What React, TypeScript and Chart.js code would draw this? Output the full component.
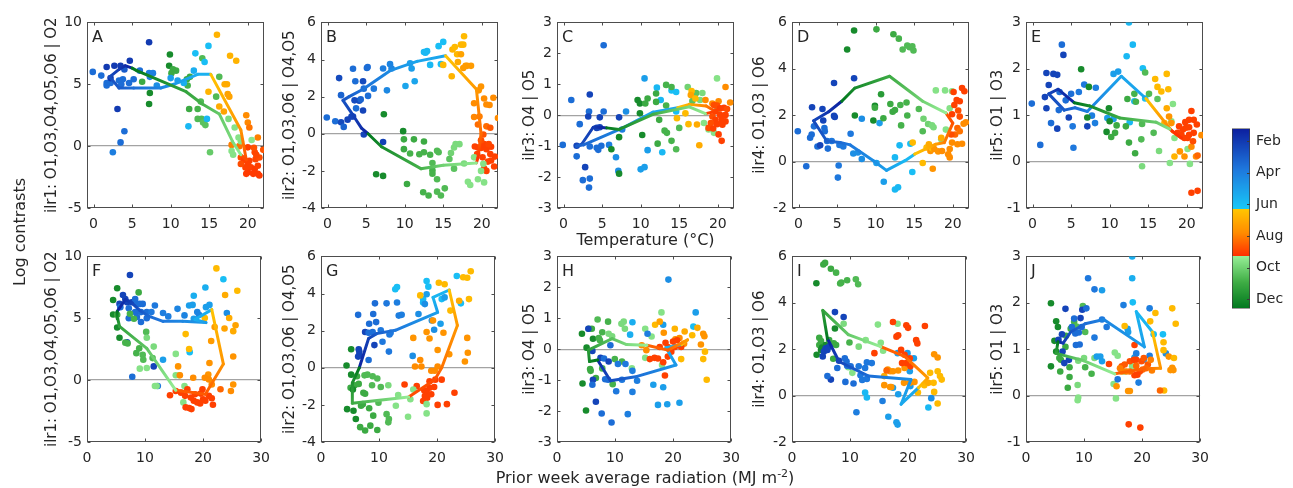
import React, { useEffect, useRef } from 'react';
import { Chart, registerables } from 'chart.js';
Chart.register(...registerables);

const FONT = '"DejaVu Sans", Verdana, sans-serif';
const INK = '#262626';

// ---------- tick labels / categories ----------
const X_TICKS_TEMP = [0, 5, 10, 15, 20];
const X_TICKS_RAD = [0, 10, 20, 30];
const Y_TICKS_1 = [-5, 0, 5, 10];
const Y_TICKS_2 = [-4, -2, 0, 2, 4, 6];
const Y_TICKS_3 = [-3, -2, -1, 0, 1, 2, 3];
const Y_TICKS_4 = [-2, 0, 2, 4, 6];
const Y_TICKS_5 = [-1, 0, 1, 2, 3];
const MONTH_TICKS = [2, 4, 6, 8, 10, 12];
const MONTH_LABELS = ['Feb', 'Apr', 'Jun', 'Aug', 'Oct', 'Dec'];
const Y_TITLES = ['ilr1: O1,O3,O4,O5,O6 | O2', 'ilr2: O1,O3,O6 | O4,O5', 'ilr3: O4 | O5', 'ilr4: O1,O3 | O6', 'ilr5: O1 | O3'];
const LETTERS = ['A', 'B', 'C', 'D', 'E', 'F', 'G', 'H', 'I', 'J'];

// ---------- data: [x, y, month] ----------
const PTS_A = [
  [-0.1,6.0,3.5],[1.0,5.7,3.5],[1.7,6.4,2],[2.7,6.5,2],[2.2,5.1,3.5],[1.7,5.1,3.5],[1.7,4.9,3.5],[2.2,5.5,2],[3.5,6.5,2],[4.0,6.2,3],[4.7,6.9,2],[3.8,5.4,3.5],[3.3,5.3,3.5],[3.6,5.0,3.5],[4.6,5.1,3.5],[5.2,5.4,3.5],[6.0,6.1,3.5],[7.2,5.9,4],[7.7,5.9,4],[7.3,5.6,4],[8.2,4.9,4.5],[7.2,8.4,2],[3.1,3.0,2],[4.0,1.2,3.5],[3.5,0.3,3.5],[2.5,-0.5,4],
  [6.3,5.2,11],[7.3,4.3,12],[7.2,3.4,12],[9.9,7.4,12],[9.8,6.5,12],[10.3,6.2,11],[10.1,5.9,11],[10.7,6.1,11],[12.1,5.4,11],[12.5,5.6,11],[12.2,4.9,10.8],[14.1,7.1,10.6],[12.4,3.0,11],[13.5,3.0,10.8],[13.9,3.6,10.6],[13.5,2.2,10.6],[14.0,2.2,10.6],[14.2,1.9,10.4],[14.5,1.7,10.4],[15.1,-0.5,10.2],[16.3,5.6,10.6],[15.9,4.0,10.6],
  [10.0,5.5,5],[10.9,5.3,5],[11.7,5.1,5.5],[13.0,6.1,5.5],[13.2,7.5,6],[14.4,6.8,6],[14.9,8.1,6],[14.7,2.2,5.8],[12.3,1.6,5.8],
  [16.0,9.0,6.8],[17.7,7.3,6.8],[18.5,6.9,6.8],[14.9,4.4,6.8],[17.0,5.0,7.0],[17.3,5.0,7.0],[17.4,4.2,7.2],[17.6,4.0,7.2],[16.3,3.2,7.0],[16.9,2.8,7.2],[19.8,2.5,7.8],[20.0,1.9,7.9],[20.2,1.5,8.2],[21.3,0.7,8.0],[17.9,0.1,8.0],[18.9,0.0,8.2],
  [17.5,2.2,9.8],[18.3,1.5,9.6],[18.8,0.7,9.6],[19.1,0.4,9.6],[18.1,-0.7,9.6],[17.9,-0.4,9.6],[20.5,0.5,9.5],
  [20.0,-0.1,9.0],[20.9,-0.5,8.9],[22.0,-0.3,8.7],[19.1,-0.92,8.8],[19.5,-1.13,9.0],[20.0,-1.45,9.0],[20.4,-1.72,9.0],[20.9,-1.85,9.1],[21.3,-2.24,9.1],[20.0,-2.11,9.1],[19.7,-1.72,9.0],[19.1,-1.45,8.8],[21.0,-1.06,8.9],[21.5,-0.92,8.8],[21.3,-1.58,9.0],[20.2,-1.19,9.0],[19.8,-2.24,9.1],[20.7,-2.24,9.1],[21.5,-2.37,9.1],[21.1,-0.71,8.9],[20.8,-0.13,8.7]
];
const LINE_A = [[5.0,6.3,1.3],[4.1,6.5,1.6],[3.3,6.2,2.0],[2.1,5.6,2.5],[3.3,4.7,3.0],[5.2,4.7,3.5],[8.7,4.7,4.2],[10.4,5.0,4.8],[13.5,5.8,5.6],[15.2,5.8,6.35],[19.1,1.3,7.6],[19.8,-1.1,8.8],[19.1,-0.7,9.4],[18.0,0.4,9.8],[16.3,2.6,10.2],[14.1,3.4,10.8],[12.0,4.4,11.2],[5.6,6.1,12.5],[5.0,6.3,12.6]];

const PTS_B = [
  [-0.1,0.88,3.5],[1.0,0.67,3.5],[1.75,0.62,2.5],[2.1,0.37,3.2],[1.5,3.0,2.5],[1.75,2.08,3.2],[3.3,3.5,3.5],[3.6,2.83,3.5],[4.6,2.83,2.5],[5.1,3.54,3.5],[5.2,3.6,3.5],[3.5,1.8,2.5],[4.1,1.78,2.5],[4.3,1.85,3.2],[4.7,2.43,3.5],[6.0,2.43,3.8],[5.25,2.04,3.5],[3.7,1.37,3.5],[4.6,1.25,2.3],[3.1,0.93,2.3],[2.6,0.76,2.3],[3.3,0.93,2.3],[4.7,-0.04,2.3],[7.2,3.52,4.0],[8.1,3.75,4.2],[8.3,3.52,4.2],[7.7,2.34,4.3],[10.7,3.8,5],[10.9,3.52,5],[11.3,2.83,5.2],[10.1,2.57,5.2],[12.5,4.4,5.8],[12.7,4.37,5.8],[12.9,4.45,5.8],[13.3,3.71,5.8],[14.4,4.72,6],[15.0,4.95,6],[14.7,3.75,6],[7.2,-0.44,2.2],
  [15.0,3.71,6.6],[16.2,4.54,6.8],[16.5,4.67,6.6],[17.3,4.8,6.7],[17.6,4.8,6.7],[17.7,5.25,6.6],[16.8,4.28,6.7],[17.3,4.28,7.2],[16.9,3.87,7.0],[17.9,3.66,7.4],[18.1,3.66,7.4],[18.6,3.66,7.4],[17.6,3.54,7.4],[16.1,3.1,6.8],[19.9,2.55,7.6],[19.6,2.34,7.6],[20.3,1.9,7.8],[21.5,1.94,7.8],[19.0,1.64,7.8],[20.6,1.58,7.8],[21.0,1.55,7.8],[22.1,0.85,7.8],[19.0,0.9,7.9],[19.7,0.93,8.0],[19.5,0.5,8.3],[20.6,0.4,8.3],[21.1,0.32,8.6],[20.2,-0.04,8.7],
  [19.1,-0.69,9],[19.5,-0.74,9],[19.9,-0.77,9],[20.3,-0.56,9],[20.6,-0.83,9],[21.2,-0.7,9],[21.7,-1.23,9],[21.1,-1.09,9],[21.2,-1.44,9],[20.8,-1.5,9],[20.3,-1.88,9],[20.6,-2.0,9],[21.6,-1.76,9],[19.4,-1.09,9],[20.1,-1.27,9],[19.9,-0.35,8.8],[20.9,-0.56,8.9],
  [7.3,1.05,12],[9.8,0.14,12],[9.9,-0.3,11],[9.9,-0.83,11],[11.2,-0.3,11],[12.5,-0.42,11],[11.9,-1.1,10.8],[12.5,-1.0,10.8],[10.7,-1.06,10.8],[13.3,-1.13,10.8],[13.6,-1.58,10.6],[14.2,-0.92,10.6],[14.4,-1.0,10.6],[16.0,-1.04,10],[16.4,-0.74,9.8],[16.6,-0.56,9.8],[17.1,-0.56,9.8],[15.8,-1.36,10.4],[16.4,-1.88,10.4],[17.7,-1.6,9.8],[19.0,-1.27,9.6],[20.2,-1.62,9.6],[18.2,-2.59,9.6],[18.5,-2.76,9.6],[19.5,-2.45,9.6],[20.3,-2.62,9.6],[19.9,-2.0,9.6],[6.3,-2.18,12],[7.2,-2.27,12],[10.3,-2.71,11],[12.4,-3.15,10.8],[13.1,-3.33,10.8],[13.6,-1.97,10.8],[13.6,-2.15,10.8],[14.2,-3.12,10.6],[14.7,-3.33,10.6],[15.2,-2.94,10.6],[14.2,-2.45,10.6]
];
const LINE_B = [[5.25,0.0,1.3],[4.4,0.3,1.7],[3.3,1.0,2.2],[2.0,1.8,2.7],[2.8,2.0,3.1],[4.6,2.4,3.6],[8.1,3.4,4.4],[11.6,3.9,5.2],[15.3,4.2,6.35],[19.3,2.4,7.5],[19.9,0.0,8.3],[19.5,-1.3,9.2],[19.3,-1.57,9.4],[15.0,-1.7,10.0],[12.1,-1.88,10.8],[7.0,-0.7,12.0],[5.25,0.0,12.6]];

const PTS_C = [
  [-0.1,-0.96,3.5],[1.0,0.49,3.5],[2.1,-0.29,3.5],[1.7,-1.33,3.5],[1.7,-0.99,2.3],[2.5,-2.1,3.5],[2.8,-1.68,2.3],[3.4,-2.05,3.5],[3.3,-2.34,3.5],[3.4,0.67,2.3],[3.3,0.12,3.5],[3.2,-0.04,2.3],[4.7,-0.07,2.3],[5.2,0.12,3.5],[5.2,2.26,3.5],[3.4,-1.01,3.5],[4.3,-1.05,3.5],[4.5,-1.12,3.5],[4.9,-0.99,3.5],[5.9,-0.96,4],[4.3,-0.41,2.3],[4.7,-0.39,2.3],[6.8,-1.36,4.5],[7.1,-1.8,4.5],[7.2,-0.07,2.3],[8.1,0.12,4.5],[7.6,-0.46,4],[10.5,1.19,5],[10.9,-1.13,5],[10.0,-1.75,5],[10.5,-1.68,5],[12.1,0.89,5.8],[12.6,0.49,5.8],[12.8,-1.2,5.8],[14.0,0.8,6],[14.6,0.75,6],[14.6,0.12,6],
  [6.2,-1.1,12],[7.2,-0.71,12],[7.2,-1.89,12],[9.6,0.49,12],[9.9,0.38,12],[9.9,0.06,12],[10.2,-0.64,12],[10.6,0.38,11],[10.9,0.54,11],[12.0,0.7,11],[12.0,0.43,11],[12.4,-0.15,11],[12.2,-0.92,11],[13.3,0.98,10.8],[14.0,0.91,10.8],[13.3,0.31,10.8],[13.1,-0.5,10.8],[13.4,-0.57,10.8],[14.0,-0.83,10.8],[14.6,-1.1,10.6],[15.0,-0.41,10.6],[16.1,0.91,10],[16.7,0.46,10.4],[17.2,0.72,10.4],[18.0,0.72,9.8],[17.7,0.49,9.8],[19.9,1.19,9.6],[18.2,-0.25,9.6],[18.8,-0.46,9.6],[19.5,-0.57,9.6],[19.9,0.17,9.6],
  [14.7,-0.1,6.6],[15.8,0.06,6.6],[16.2,-0.29,6.6],[16.6,0.78,6.6],[16.5,0.65,7.2],[17.1,0.54,6.6],[17.3,-0.3,7.0],[17.6,-0.97,7.0],[18.4,0.49,7.8],[19.3,0.38,7.8],[21.0,0.91,7.8],[21.6,0.41,7.8],[20.1,0.45,7.8],
  [19.5,0.33,8.8],[19.9,0.31,8.8],[20.3,0.22,9],[20.8,0.24,9],[21.2,0.2,8.8],[19.7,0.12,9],[20.3,0.01,9],[21.0,0.01,9],[19.3,-0.04,8.8],[19.7,-0.15,9],[20.5,-0.15,9],[21.0,-0.2,9],[19.1,-0.25,8.8],[19.9,-0.29,9],[18.8,-0.41,8.8],[19.4,-0.43,9],[20.6,-0.31,9],[20.1,-0.62,9],[20.5,-0.83,9]
];
const LINE_C = [[5.6,-0.41,1.3],[4.7,-0.39,1.6],[3.85,-0.39,2.0],[2.35,-0.94,2.6],[1.7,-1.0,3.0],[2.6,-0.96,3.3],[7.7,-0.41,4.3],[11.6,0.1,5.3],[14.8,0.24,6.35],[16.3,0.35,7.0],[18.5,0.3,8.0],[19.7,0.12,9.0],[18.4,0.05,9.4],[16.3,0.27,9.8],[11.6,0.03,10.9],[7.2,-0.46,11.9],[5.6,-0.41,12.6]];

const PTS_D = [
  [-0.1,1.31,3.5],[1.0,-0.2,3.5],[1.5,1.03,3.5],[1.7,1.17,3.5],[1.75,2.34,2.3],[2.0,1.52,3.5],[2.45,0.65,3.5],[2.8,0.7,2.3],[3.1,2.27,2.3],[3.2,1.77,2.3],[3.35,1.45,3.5],[3.4,1.31,3.5],[3.7,0.89,3.5],[3.8,0.56,3.5],[4.3,0.89,3.8],[4.6,1.97,2.3],[4.7,1.92,2.3],[4.6,3.39,2.3],[5.3,0.72,3.8],[5.2,-0.17,3.8],[5.1,-0.69,3.8],[5.8,0.65,3.8],[6.75,1.2,3.8],[7.2,3.59,2.3],[7.1,0.35,4.5],[7.7,0.39,4.5],[8.2,0.11,4.5],[8.2,1.85,4.5],[10.1,-0.06,5],[10.5,1.66,5],[11.05,-0.87,5],[12.5,-1.2,5.8],[12.9,-1.11,5.8],[12.5,0.18,5.8],[13.1,0.7,5.8],[14.75,-0.45,6],[14.5,0.77,6],
  [6.3,4.83,12],[7.2,5.65,12],[7.3,1.99,12],[9.9,2.41,12],[9.9,2.32,11],[9.7,1.77,12],[11.0,1.87,11],[10.7,2.9,11.5],[10.1,5.7,11],[12.3,5.49,11],[13.0,5.3,10.8],[13.5,4.83,10.6],[14.1,5.0,10.6],[14.4,4.93,10.6],[14.75,4.97,10.6],[14.9,4.79,10.6],[11.9,2.48,11],[12.2,2.15,11],[12.5,2.22,11],[13.2,2.44,10.8],[14.0,2.55,10.8],[13.3,1.56,10.8],[14.1,1.99,10.8],[15.6,2.27,10.6],[16.2,1.85,10],[16.1,1.31,10.6],[16.8,1.62,10],[17.3,1.56,9.8],[17.5,1.48,9.8],[17.8,3.07,9.6],[19.0,3.07,9.6],[19.9,3.03,9.6],[19.6,2.3,9.6],[19.1,1.38,9.6],[18.5,0.96,9.6],
  [14.8,0.82,6.6],[16.1,-0.06,6.6],[16.6,0.61,6.6],[16.9,0.75,7.0],[17.1,0.46,7.6],[17.3,0.58,6.6],[17.4,-0.31,7.6],[17.6,0.54,7.6],[18.1,0.44,7.6],[18.5,1.03,7.0],[18.6,0.46,7.8],[19.4,0.32,7.8],[19.6,0.54,7.8],[19.6,0.18,7.8],[19.9,0.82,7.8],[20.6,0.75,7.8],[21.2,0.77,7.8],[21.7,1.69,7.8],[21.4,1.63,7.8],
  [19.9,2.04,9],[20.2,2.44,9],[20.9,1.94,8.8],[20.5,2.65,9],[20.9,2.6,9],[20.1,3.0,9],[21.2,3.17,9],[21.5,3.03,9],[20.3,1.17,8.4],[20.6,1.45,8.4],[20.9,1.31,8.2],[19.8,1.17,8.8],[20.7,2.2,8.8]
];
const LINE_D = [[5.6,2.6,1.3],[3.9,2.15,1.8],[1.95,1.76,2.4],[3.65,0.89,3.0],[5.4,0.82,3.4],[6.7,0.72,3.8],[9.7,0.04,4.5],[11.4,-0.38,5.0],[13.8,0.04,5.8],[15.05,0.32,6.35],[17.8,0.75,7.3],[18.9,0.82,8.0],[20.0,1.66,8.7],[19.1,2.1,9.3],[16.1,2.6,10.0],[11.8,3.68,11.0],[7.3,3.17,12.0],[5.6,2.6,12.6]];

const PTS_E = [
  [-0.1,1.25,3.5],[1.0,0.36,3.5],[1.6,1.39,2.3],[1.8,1.91,2.3],[2.1,1.65,2.3],[1.8,1.15,2.3],[2.4,0.83,3.5],[2.7,1.89,2.3],[3.2,1.87,2.3],[3.2,0.71,2.3],[3.4,1.11,3.5],[3.8,2.52,3.5],[4.0,2.3,2.3],[3.5,1.5,3.5],[4.3,1.32,3.5],[4.7,0.95,2.3],[5.0,1.46,3.5],[5.2,0.76,3.8],[5.3,0.3,3.8],[6.0,1.5,3.8],[6.7,1.66,3.8],[7.1,0.76,2.3],[7.7,0.99,4],[8.1,0.83,4],[8.2,1.59,4],[9.7,0.94,5],[10.5,0.92,5],[10.5,1.89,5],[11.1,1.94,5],[12.2,2.27,5.8],[12.5,3.0,5.8],[13.0,2.52,5.8],[13.2,1.3,5.8],[14.3,2.01,6],[14.6,1.36,6],[12.6,0.85,5.8],
  [6.3,1.99,12],[7.3,1.61,12],[7.1,0.95,12],[9.9,1.15,12],[10.0,0.87,12],[9.6,0.64,12],[10.2,0.53,11],[10.7,0.62,11],[10.9,0.78,11],[12.1,0.76,11],[12.5,0.41,11],[12.3,1.35,11],[13.4,1.29,10.8],[13.2,1.46,10.8],[13.3,0.18,11],[14.2,0.81,10.6],[14.1,0.48,10.6],[14.2,-0.1,9.8],[14.6,1.92,10.6],[15.1,1.46,10.6],[15.7,0.62,10.6],[16.2,1.35,10.4],[16.4,0.23,9.8],[18.2,1.24,9.6],[18.0,0.87,9.6],[17.8,-0.03,9.6],[18.4,0.51,9.6],[20.1,0.27,9.6],[20.4,-0.05,9.6],
  [15.9,1.78,6.6],[17.4,1.89,6.6],[16.2,1.61,6.6],[16.7,1.51,6.6],[17.6,1.56,6.6],[17.4,1.15,7.0],[17.7,0.97,7.6],[18.0,0.83,7.6],[17.1,0.83,6.8],[18.4,0.11,6.8],[19.1,0.22,7.6],[19.7,0.11,7.6],[21.2,0.11,7.8],[21.4,0.13,8.4],[21.9,0.57,7.8],[20.6,0.32,7.8],
  [19.0,0.76,9],[19.5,0.69,9],[19.9,0.73,9],[20.3,0.9,9],[20.6,1.09,9],[20.9,0.9,9],[21.3,0.8,9],[20.9,0.62,9],[20.3,0.58,9],[20.1,0.51,9],[19.7,0.51,9],[19.3,0.58,9],[18.8,0.62,9],[20.3,0.74,9],[20.8,0.44,8.8],[19.8,0.85,9],[20.6,-0.67,9],[21.4,-0.63,9]
];
const LINE_E = [[5.4,1.27,1.3],[3.3,1.56,1.9],[2.1,1.46,2.4],[4.1,1.11,3.0],[5.5,1.16,3.5],[7.1,1.08,4.0],[11.5,1.84,5.2],[14.7,1.36,6.35],[18.1,0.65,8.0],[19.3,0.51,9.2],[17.8,0.7,9.6],[16.0,0.85,10.2],[11.3,0.94,11.0],[7.4,1.2,12.0],[5.4,1.27,12.6]];

const PTS_F = [
  [7.4,8.5,2.3],[6.2,6.88,2.3],[6.6,6.56,2.3],[6.9,6.29,2.3],[5.6,6.16,2.3],[5.75,5.9,3.5],[7.7,6.29,2.3],[8.3,6.56,3.5],[8.6,6.16,3.5],[9.1,6.16,3.5],[9.6,6.16,3.5],[7.2,5.81,3.5],[8.3,5.5,3.5],[8.6,5.1,3.5],[9.3,5.5,3.5],[10.3,5.5,3.5],[10.3,5.0,3.5],[11.1,5.5,3.8],[11.7,6.03,3.8],[13.1,5.42,4],[14.0,5.15,4],[7.2,5.0,3.5],[9.3,4.7,3.5],[6.9,3.05,2.3],[7.8,0.27,3.5],[11.5,1.11,2.3],[12.2,-0.48,3.8],[13.1,1.65,5],[15.6,5.76,4.2],[16.8,5.23,4.2],[17.6,6.03,5],[18.2,6.08,5],[18.4,6.82,5.5],[19.0,5.5,4.2],[19.3,5.28,4.2],[20.4,7.49,5.5],[20.5,5.9,5],[21.1,6.08,5],[23.5,8.15,6],[24.1,5.42,4.5],[17.7,2.26,6],[18.4,4.96,5],
  [5.2,7.43,12],[4.5,6.48,12],[4.5,5.31,12],[5.2,5.28,11],[5.2,4.25,12],[5.6,3.42,12],[6.6,3.03,10.8],[7.0,2.97,10.8],[7.4,5.36,10.8],[8.1,4.96,10.8],[8.9,7.09,11],[8.5,2.18,10.8],[9.0,2.57,10.8],[9.6,2.04,10.6],[9.7,1.65,10.6],[10.2,3.9,10.6],[10.3,3.42,9.8],[9.1,0.93,9.6],[10.3,0.98,9.6],[11.3,1.78,10.6],[11.5,2.71,9.8],[11.7,-0.48,9.6],[12.0,-0.48,9.6],[15.3,2.12,9.6],[15.3,0.4,9.6],[15.9,0.4,9.6],[16.6,-1.8,9.6],[16.8,-0.48,9.6],
  [22.3,9.03,6.6],[25.9,7.22,6.6],[23.8,6.88,7.0],[24.5,5.02,7.0],[25.2,3.96,7.0],[25.6,4.43,7.2],[23.7,4.17,7.2],[22.0,4.3,7.4],[21.4,3.16,7.4],[17.0,3.72,6.6],[17.6,2.52,6.6],[20.3,5.02,6.6],[25.2,1.91,7.6],[21.1,1.38,7.6],[15.7,1.11,7.6],[16.0,0.4,7.8],[18.3,0.19,7.8],[20.9,0.45,7.6],[20.3,0.19,7.8],[21.5,-0.35,7.8],[23.0,-0.74,8.4],[24.8,-0.88,7.8],[25.2,-0.35,7.6],[21.0,0.05,7.8],
  [14.3,-1.22,9],[15.3,-0.88,9],[16.2,-1.01,9],[16.9,-1.27,9],[17.3,-0.74,9],[17.9,-1.41,9],[18.6,-1.14,9],[19.0,-1.8,9],[19.5,-1.88,9],[20.0,-1.54,9],[20.4,-1.67,9],[21.0,-1.27,9],[21.5,-1.46,9],[21.7,-1.99,9],[17.6,-2.26,9],[18.0,-2.34,9],[17.0,-2.2,9],[19.6,-1.09,9],[19.9,-0.74,9],[18.4,-1.67,9]
];
const LINE_F = [[5.2,5.55,1.3],[6.6,6.5,1.8],[7.7,6.24,2.3],[9.1,5.63,2.8],[10.5,5.2,3.3],[13.1,4.75,3.8],[16.5,4.75,4.3],[20.5,4.65,4.9],[18.6,4.9,5.5],[21.5,5.7,6.35],[23.5,1.3,7.6],[20.4,-1.14,8.6],[15.3,-0.82,9.3],[10.3,2.57,10.3],[5.6,4.35,11.3],[5.3,4.96,12.0],[5.2,5.55,12.6]];

const PTS_G = [
  [6.4,2.85,3.5],[6.5,1.0,2.3],[6.6,0.87,2.3],[6.6,0.69,2.3],[6.4,0.6,2.3],[8.2,0.42,3.5],[7.6,1.93,2.3],[8.2,1.88,3.5],[8.3,2.37,3.5],[9.3,3.47,3.5],[9.0,2.9,3.5],[9.5,2.46,3.5],[8.9,1.93,3.5],[9.2,1.22,2.3],[10.3,2.02,3.8],[10.6,1.4,3.8],[11.3,3.47,3.8],[11.8,1.79,3.8],[12.0,1.89,3.8],[11.7,0.87,3.8],[12.8,4.23,6],[13.1,4.35,6],[13.1,3.52,4],[13.4,2.81,4],[13.9,2.85,4],[16.8,2.9,4.5],[15.8,0.64,4.5],[18.2,4.67,6],[18.5,4.37,6],[17.6,3.7,5.8],[17.6,3.52,5.8],[17.9,3.43,4.5],[18.2,3.96,5],[19.1,2.55,4.5],[19.5,2.05,4.5],[20.8,3.7,6],[21.3,3.79,5],[20.6,2.37,5],[23.4,4.94,6],[24.1,3.47,6],
  [20.3,4.58,6.6],[21.3,4.5,6.6],[17.1,3.9,6.6],[24.5,4.88,6.6],[25.2,4.85,6.6],[25.8,5.2,6.6],[25.5,3.7,6.6],[23.8,3.61,7.0],[22.3,3.08,6.6],[25.2,1.61,7.6],[25.3,0.81,7.6],[24.8,0.34,7.6],[15.9,1.61,7.6],[18.2,1.93,7.6],[18.7,1.58,7.6],[19.3,2.55,7.6],[20.1,0.96,7.6],[21.1,1.89,7.6],[22.1,0.73,7.6],[16.2,0.07,7.8],[17.1,0.42,7.8],[17.3,0.07,7.8],[19.0,-0.16,7.8],[19.6,-0.16,7.8],[20.1,0.07,7.8],
  [14.4,-0.9,9],[16.5,-0.99,9],[18.2,-1.29,9],[18.7,-0.73,9],[18.7,-1.08,9],[17.9,-1.52,9],[17.6,-1.79,9],[18.3,-1.61,9],[19.0,-1.43,9],[19.5,-1.04,9],[20.8,-0.64,9],[20.1,-2.0,9],[21.7,-1.96,9],[23.0,-1.35,9],[17.8,-1.22,9],[19.7,-0.64,9],
  [5.2,1.0,12],[4.4,0.12,12],[5.2,-0.37,12],[5.1,-1.08,11],[5.8,-0.94,11],[5.5,-1.17,12],[6.2,-0.46,11],[6.5,-0.87,11],[4.5,-2.23,12],[5.6,-2.32,12],[6.0,-2.76,12],[6.75,-3.2,11],[7.6,-3.38,11],[8.5,-3.12,11],[9.7,-3.35,11],[9.0,-2.58,11],[8.3,-2.18,11],[7.2,-1.96,11],[6.9,-2.05,11],[7.3,-1.35,11],[7.6,-1.4,11],[7.5,-0.41,10.6],[8.0,-0.37,10.6],[8.9,-0.46,10.6],[9.7,-0.58,10.6],[8.8,-0.94,10.6],[10.3,-1.04,10.6],[9.9,-1.88,10.6],[11.6,-0.94,9.8],[11.3,-2.5,10.6],[11.6,-2.94,10.6],[11.7,-2.76,10.6],[13.3,-1.47,9.6],[12.9,-2.05,9.6],[15.0,-2.64,9.6],[15.4,-1.7,9.6],[15.9,-1.17,9.6],[18.2,-2.46,9.6],[18.2,-1.96,9.6]
];
const LINE_G = [[6.6,0.0,1.3],[8.2,1.58,2.2],[9.6,1.84,3.0],[12.8,2.02,3.8],[20.1,2.99,5.0],[19.3,3.79,5.7],[22.1,4.19,6.35],[23.5,2.28,7.5],[20.8,0.0,8.2],[19.6,-0.64,8.8],[15.1,-1.58,9.3],[5.4,-1.91,11.0],[5.4,-0.81,11.8],[6.6,0.0,12.6]];

const PTS_H = [
  [4.3,0.5,12],[4.4,-1.11,12],[5.0,-1.98,12],[5.1,0.05,12],[5.5,0.66,11],[6.0,0.66,11],[6.2,0.34,12],[5.7,-0.64,11],[5.8,-0.7,11],[6.7,-0.93,11],[7.0,0.96,10.6],[7.4,0.29,10.8],[7.2,0.36,10.8],[7.8,0.55,10.8],[8.8,0.89,10.8],[8.9,0.5,9.8],[9.5,0.42,9.8],[9.96,-0.32,10.8],[9.6,-1.13,10.8],[7.8,-0.62,10.8],[11.1,0.82,9.8],[11.5,0.89,9.8],[11.7,0.66,9.8],[11.2,-0.4,10.8],[12.9,-0.62,9.6],[15.2,0.66,9.6],[15.2,-0.28,9.6],[16.3,0.41,9.6],[18.0,1.19,9.6],[18.1,-0.51,9.6],
  [5.4,0.66,2.3],[6.1,-0.06,2.3],[6.2,-0.99,2.3],[6.1,-1.15,3.5],[6.7,-1.7,2.3],[7.5,-0.28,2.3],[8.1,-0.3,3.5],[8.3,-0.97,3.5],[8.8,-0.99,3.5],[8.9,-0.4,2.3],[7.7,-2.08,3.5],[9.4,-2.37,3.5],[9.2,0.13,3.5],[10.2,-1.36,3.8],[10.5,-0.48,3.8],[11.8,-0.48,3.8],[11.2,-0.99,3.8],[12.2,-2.1,4],[13.0,-0.7,4],[13.0,-1.38,4],[13.0,0.87,5.5],[12.6,0.47,5.5],[13.8,-1.02,4],[15.6,0.5,4],[16.6,-1.15,5],[17.4,-1.8,5],[18.3,-1.23,5],[18.3,0.79,5],[19.0,-1.78,5],[19.2,2.25,4.5],[21.1,-1.73,5],[23.9,1.19,5],[23.5,0.73,6],
  [16.9,0.79,6.6],[17.7,0.89,7.2],[18.4,0.53,7.6],[20.3,0.66,6.8],[22.0,0.57,7.0],[23.3,0.45,6.6],[24.2,0.69,7.0],[25.2,0.5,7.6],[25.4,0.42,7.6],[24.8,0.15,7.6],[25.5,-0.08,6.6],[25.2,-0.32,6.6],[25.8,-0.99,6.6],[21.4,-0.32,6.6],[14.6,0.13,7.8],[15.4,-0.03,7.8],[21.1,0.36,7.8],[21.9,0.18,7.8],[20.4,0.32,7.8],
  [16.0,-0.32,9],[16.8,-0.28,9],[17.4,-0.3,9],[18.3,-0.42,9],[18.6,-0.85,9],[19.1,-0.24,9],[19.7,-0.08,9],[20.3,0.07,9],[20.7,0.29,9],[21.4,0.07,9],[18.7,0.21,9],[19.1,0.07,9],[17.7,0.07,9],[20.0,0.25,9]
];
const LINE_H = [[7.0,-0.35,1.5],[9.2,-1.02,2.5],[13.8,-0.88,3.5],[20.5,-0.51,4.8],[18.8,0.05,5.6],[21.5,0.15,6.35],[22.5,0.3,7.3],[19.1,-0.03,8.5],[15.5,0.13,9.3],[12.0,0.15,9.8],[9.5,0.34,10.4],[5.4,-0.03,11.4],[5.6,-0.4,12.2],[7.0,-0.35,12.6]];

const PTS_I = [
  [4.2,4.84,12],[5.4,5.65,11],[5.7,5.72,11],[6.7,5.47,11],[7.6,5.3,10.8],[8.3,4.83,10.8],[8.5,4.87,10.8],[9.5,4.97,10.8],[11.0,5.01,10.6],[11.4,4.8,10.6],[4.7,2.49,11],[5.0,2.35,11],[4.7,2.18,11],[5.2,2.07,12],[5.0,1.97,12],[4.25,1.76,12],[5.8,2.18,12],[6.4,2.39,11],[7.2,2.25,11],[7.6,2.18,11],[7.1,1.59,11],[7.4,2.89,12],[8.9,3.1,9.8],[9.9,2.29,10.8],[11.5,2.11,9.8],[9.7,1.22,9.6],[10.4,0.98,9.6],[12.7,2.39,9.6],[14.8,3.06,9.6],[15.3,2.28,9.6],[15.7,1.93,9.6],[18.2,3.1,9.6],
  [7.4,3.6,2.3],[8.9,3.39,2.3],[5.8,2.04,2.3],[5.5,1.9,2.3],[6.4,2.11,2.3],[5.3,1.69,2.3],[6.1,1.97,2.3],[6.7,0.69,2.3],[6.1,0.84,3.5],[7.8,1.19,3.5],[8.1,1.5,2.3],[9.1,1.61,3.5],[9.5,1.29,3.5],[9.4,1.47,3.5],[10.1,1.26,3.5],[9.2,0.59,3.5],[10.6,0.52,3.5],[11.5,1.26,3.8],[11.8,0.88,3.8],[12.6,1.19,3.8],[12.9,1.43,3.8],[12.9,0.72,3.8],[12.1,0.67,3.8],[13.75,1.4,3.8],[11.1,-0.72,4],[12.6,0.13,5.8],[12.9,-0.08,5.8],[15.6,-0.23,4],[16.6,-0.91,5],[18.0,-1.15,5],[18.2,-1.25,5],[17.4,0.34,5],[18.2,1.83,5],[19.9,1.83,5],[21.0,1.61,5],[20.3,1.05,5],[20.4,0.41,5],[18.3,0.06,5],[23.5,-0.51,5.8],[24.0,-0.11,4.5],
  [15.9,0.84,7.0],[15.9,0.45,7.6],[16.9,0.37,7.6],[17.1,0.37,7.6],[17.4,1.05,7.6],[16.9,1.05,7.6],[16.5,1.12,7.6],[18.3,1.08,7.6],[19.4,1.19,7.6],[19.3,0.55,7.6],[20.3,0.55,7.6],[21.1,0.59,7.6],[21.7,0.13,6.6],[22.8,0.45,6.6],[23.5,0.55,7.0],[23.8,0.98,6.6],[24.5,1.78,7.6],[25.1,1.64,7.6],[25.1,1.05,6.6],[25.5,0.84,6.6],[25.8,0.69,6.6],[24.5,0.16,6.6],[25.1,-0.34,6.6],[24.4,0.55,6.6],
  [14.2,1.83,9],[17.4,3.17,9],[18.0,2.54,9],[18.3,2.6,9],[19.7,3.03,9],[20.0,2.92,9],[21.4,2.39,9],[21.6,2.25,9],[22.9,3.0,9],[18.8,1.97,9],[19.4,1.76,9],[18.96,1.4,9],[19.7,1.4,9],[20.4,1.26,9],[20.3,1.61,9],[16.3,1.08,8.4]
];
const LINE_I = [[6.1,2.46,1.3],[8.1,1.47,2.3],[13.2,0.84,3.5],[20.5,0.69,4.6],[18.8,-0.37,5.3],[21.8,0.34,6.35],[23.4,0.76,7.3],[19.4,1.69,8.5],[15.3,2.11,9.3],[9.7,2.63,10.2],[5.3,3.67,11.3],[6.1,2.46,12.6]];

const PTS_J = [
  [4.3,1.99,12],[5.2,1.6,12],[5.5,1.48,12],[4.9,1.18,12],[5.2,0.95,12],[4.3,0.63,12],[5.75,0.81,11],[6.0,0.77,11],[5.9,0.52,11],[6.8,1.05,11],[6.9,1.29,11],[7.5,0.61,11],[7.5,0.4,11],[7.2,0.17,11],[7.7,1.44,11],[8.3,1.59,10.8],[8.7,1.49,10.6],[9.0,0.75,9.8],[8.9,0.23,9.8],[9.0,-0.04,9.6],[8.9,-0.1,9.6],[9.8,1.93,10.6],[10.2,1.37,10.6],[10.2,0.61,10.8],[10.0,0.81,9.8],[11.3,0.47,10.8],[11.8,0.81,9.8],[15.1,0.25,9.6],[15.3,0.93,9.6],[15.8,0.86,9.6],[15.5,-0.06,9.6],[16.5,0.54,9.6],[18.3,0.63,9.6],[16.9,0.52,9.6],
  [6.8,1.87,2.3],[6.2,1.32,2.3],[5.6,1.2,2.3],[6.3,0.95,2.3],[6.6,0.7,2.3],[7.4,0.77,2.3],[7.9,1.48,3.5],[8.3,1.66,3.5],[8.5,1.34,3.5],[8.6,1.09,3.5],[9.25,1.1,3.5],[9.1,1.36,3.5],[9.4,1.67,2.3],[9.7,1.85,2.3],[10.4,1.88,3.5],[9.6,1.48,3.5],[10.7,2.53,3.8],[11.8,1.25,3.8],[11.8,2.29,3.8],[12.2,0.84,5],[12.8,0.84,5],[13.1,0.74,5],[13.1,2.27,5],[13.1,1.64,3.8],[13.9,1.48,3.8],[15.8,0.35,3.8],[16.8,1.95,4],[17.5,1.44,5],[17.6,1.37,5],[18.3,3.0,5.5],[18.3,2.53,5.5],[18.4,2.01,6],[18.7,0.82,5],[19.0,0.91,4],[19.4,0.28,4],[21.3,1.88,4],[21.3,0.86,4],[22.0,1.32,6],[23.6,1.32,6],[24.1,0.91,4.5],[20.3,0.77,5],
  [17.0,1.5,6.6],[21.4,1.6,6.6],[22.3,1.78,6.6],[25.2,1.88,6.6],[25.8,1.55,6.6],[23.7,1.15,6.6],[23.7,0.98,6.6],[24.6,0.84,7.6],[25.5,0.81,6.6],[25.2,0.6,7.6],[25.4,0.55,7.6],[24.9,0.55,7.6],[15.6,0.2,7.6],[17.6,0.1,7.6],[23.8,0.11,6.6],[17.9,0.1,7.6],[23.1,0.11,8.4],
  [16.5,0.63,8.6],[17.0,0.67,8.6],[17.9,0.74,8.8],[18.6,0.77,9],[19.0,0.77,9],[19.9,0.74,8.8],[20.3,0.81,8.6],[21.0,0.67,8.6],[21.5,0.77,8.0],[20.7,0.59,8.4],[20.1,0.56,8.4],[19.6,0.52,8.8],[19.2,0.45,9],[18.7,0.44,9],[17.9,0.52,8.4],[17.3,0.52,8.0],[16.5,0.52,8.0],[16.2,0.59,8.0],[19.0,0.64,8.4],[21.7,0.54,8.0],[18.7,1.09,9],[14.3,0.68,9],[17.7,-0.62,9],[19.7,-0.69,9]
];
const LINE_J = [[5.5,1.16,1.3],[6.4,1.13,2.0],[7.7,1.37,2.7],[10.2,1.55,3.5],[13.4,1.64,4.2],[20.4,1.05,5.0],[19.0,1.81,5.7],[21.8,1.37,6.35],[23.2,0.59,7.6],[20.4,0.58,8.5],[15.3,0.47,9.3],[10.0,0.75,10.0],[5.2,0.91,11.3],[5.5,1.16,12.6]];

// ---------- colour map (month -> colour) ----------
const CB_MIN = 1.2, CB_MAX = 12.6, CUT1 = 6.3, CUT2 = 9.3;
const BLUE_STOPS = [[0, [12, 30, 158]], [0.5, [30, 118, 220]], [1, [24, 200, 248]]];
const ORANGE_STOPS = [[0, [255, 198, 0]], [0.5, [255, 140, 0]], [1, [255, 45, 0]]];
const GREEN_STOPS = [[0, [150, 238, 150]], [0.5, [62, 172, 68]], [1, [0, 120, 30]]];

function interp(stops: any[], t: number) {
  t = Math.max(0, Math.min(1, t));
  for (let i = 0; i < stops.length - 1; i++) {
    const [t0, c0] = stops[i], [t1, c1] = stops[i + 1];
    if (t <= t1) {
      const f = (t - t0) / (t1 - t0);
      const c = c0.map((v: number, k: number) => Math.round(v + (c1[k] - v) * f));
      return `rgb(${c[0]},${c[1]},${c[2]})`;
    }
  }
  const c = stops[stops.length - 1][1];
  return `rgb(${c[0]},${c[1]},${c[2]})`;
}
function band(m: number) { return m < CUT1 ? 0 : m < CUT2 ? 1 : 2; }
function cmap(m: number) {
  if (m < CUT1) return interp(BLUE_STOPS, (m - CB_MIN) / (CUT1 - CB_MIN));
  if (m < CUT2) return interp(ORANGE_STOPS, (m - CUT1) / (CUT2 - CUT1));
  return interp(GREEN_STOPS, (m - CUT2) / (CB_MAX - CUT2));
}

// ---------- layout (positions only) ----------
const PW = 177, PH = 189, YW = 60, PT = 10, PR = 14, XH = 28;
const COL_LEFT = [87, 321, 557, 792, 1026];
const ROW_TOP = [19, 253];
const TITLE_GAP = [35, 31, 27, 32, 28];

const PANELS = [
  { pts: PTS_A, line: LINE_A, yt: Y_TICKS_1 }, { pts: PTS_B, line: LINE_B, yt: Y_TICKS_2 }, { pts: PTS_C, line: LINE_C, yt: Y_TICKS_3 },
  { pts: PTS_D, line: LINE_D, yt: Y_TICKS_4 }, { pts: PTS_E, line: LINE_E, yt: Y_TICKS_5 },
  { pts: PTS_F, line: LINE_F, yt: Y_TICKS_1 }, { pts: PTS_G, line: LINE_G, yt: Y_TICKS_2 }, { pts: PTS_H, line: LINE_H, yt: Y_TICKS_3 },
  { pts: PTS_I, line: LINE_I, yt: Y_TICKS_4 }, { pts: PTS_J, line: LINE_J, yt: Y_TICKS_5 }
];

const framePlugin = {
  id: 'frame',
  beforeDatasetsDraw(chart: any, _a: any, opts: any) {
    const { ctx, chartArea: a, scales } = chart;
    ctx.save();
    ctx.strokeStyle = '#4d4d4d';
    ctx.lineWidth = 1;
    const L = Math.round(a.left) + 0.5, R = Math.round(a.right) - 0.5, T = Math.round(a.top) + 0.5, B = Math.round(a.bottom) - 0.5;
    ctx.strokeRect(L, T, R - L, B - T);
    const tl = 3;
    ctx.beginPath();
    scales.x.ticks.forEach((t: any) => {
      const px = Math.round(scales.x.getPixelForValue(t.value)) + 0.5;
      ctx.moveTo(px, B); ctx.lineTo(px, B - tl);
      ctx.moveTo(px, T); ctx.lineTo(px, T + tl);
    });
    scales.y.ticks.forEach((t: any) => {
      const py = Math.round(scales.y.getPixelForValue(t.value)) + 0.5;
      ctx.moveTo(L, py); ctx.lineTo(L + tl, py);
      ctx.moveTo(R, py); ctx.lineTo(R - tl, py);
    });
    ctx.stroke();
    ctx.fillStyle = INK;
    ctx.font = `16px ${FONT}`;
    ctx.textBaseline = 'top';
    ctx.textAlign = 'left';
    ctx.fillText(opts.letter, a.left + 5, a.top + 7);
    ctx.save();
    ctx.translate(a.left - opts.gap, (a.top + a.bottom) / 2);
    ctx.rotate(-Math.PI / 2);
    ctx.font = `15px ${FONT}`;
    ctx.textAlign = 'center';
    ctx.textBaseline = 'middle';
    ctx.fillText(opts.title, 0, 0);
    ctx.restore();
    ctx.restore();
  }
};

function Panel({ idx }: { idx: number }) {
  const ref = useRef<HTMLCanvasElement>(null);
  const col = idx % 5, row = Math.floor(idx / 5);
  const left = COL_LEFT[col] - YW, top = ROW_TOP[row] - PT;
  const W = YW + PW + PR, H = PT + PH + XH;
  useEffect(() => {
    const el = ref.current!;
    const g2d = el.getContext('2d')!;
    const p = PANELS[idx];
    const line = p.line;
    const xt = row === 0 ? X_TICKS_TEMP : X_TICKS_RAD;
    const xmin = row === 0 ? -0.85 : 0, xmax = row === 0 ? 22.1 : 30;
    const yt = p.yt;
    const chart = new Chart(el, {
      type: 'scatter',
      data: {
        datasets: [
          {
            type: 'line', data: line.map(q => ({ x: q[0], y: q[1] })), borderWidth: 3, pointRadius: 0, fill: false, tension: 0, order: 0,
            borderColor: cmap(line[0][2]), borderCapStyle: 'round', borderJoinStyle: 'round',
            segment: {
              borderColor: (c: any) => {
                const m0 = line[c.p0DataIndex][2], m1 = line[c.p1DataIndex][2];
                if (band(m0) !== band(m1) || !c.p0 || !c.p1) return cmap(m0);
                const g = g2d.createLinearGradient(c.p0.x, c.p0.y, c.p1.x, c.p1.y);
                g.addColorStop(0, cmap(m0));
                g.addColorStop(1, cmap(m1));
                return g;
              }
            }
          } as any,
          {
            type: 'scatter', data: p.pts.map(q => ({ x: q[0], y: q[1] })), pointRadius: 3.3, pointBorderWidth: 0,
            pointBackgroundColor: p.pts.map(q => cmap(q[2])), order: 1
          } as any
        ]
      },
      options: {
        animation: false, responsive: false, maintainAspectRatio: false,
        layout: { padding: { top: PT, right: PR, left: 0, bottom: 0 } },
        events: [],
        plugins: { legend: { display: false }, tooltip: { enabled: false }, frame: { letter: LETTERS[idx], title: Y_TITLES[col], gap: TITLE_GAP[col] } } as any,
        scales: {
          x: {
            type: 'linear', min: xmin, max: xmax,
            afterBuildTicks: (s: any) => { s.ticks = xt.map(v => ({ value: v })); },
            afterFit: (s: any) => { s.height = XH; },
            ticks: { font: { family: FONT, size: 14 }, color: INK, padding: 8, maxRotation: 0, autoSkip: false },
            grid: { display: false, drawTicks: false }, border: { display: false }
          },
          y: {
            type: 'linear', min: yt[0], max: yt[yt.length - 1],
            afterBuildTicks: (s: any) => { s.ticks = yt.map(v => ({ value: v })); },
            afterFit: (s: any) => { s.width = YW; },
            ticks: { font: { family: FONT, size: 14 }, color: INK, padding: 5, autoSkip: false },
            grid: { color: (c: any) => (c.tick && c.tick.value === 0 ? '#a3a3a3' : 'rgba(0,0,0,0)'), lineWidth: 1.3, drawTicks: false },
            border: { display: false }
          }
        }
      } as any,
      plugins: [framePlugin]
    });
    return () => chart.destroy();
  }, []);
  return <canvas ref={ref} width={W} height={H} style={{ position: 'absolute', left, top, width: W, height: H }} />;
}

const CB_LEFT = 1232, CB_TOP = 124, CB_W = 18, CB_H = 189;

const cbTickPlugin = {
  id: 'cbticks',
  afterDatasetsDraw(chart: any) {
    const { ctx, chartArea: a, scales } = chart;
    ctx.save();
    ctx.strokeStyle = '#3a3a3a';
    ctx.lineWidth = 1;
    ctx.beginPath();
    scales.y.ticks.forEach((t: any) => {
      const py = Math.round(scales.y.getPixelForValue(t.value)) + 0.5;
      ctx.moveTo(a.right, py); ctx.lineTo(a.right - 3, py);
    });
    ctx.stroke();
    ctx.restore();
  }
};

function Colorbar() {
  const ref = useRef<HTMLCanvasElement>(null);
  useEffect(() => {
    const el = ref.current!;
    const chart = new Chart(el, {
      type: 'bar',
      data: {
        labels: [''],
        datasets: [{
          data: [[CB_MIN, CB_MAX]] as any,
          backgroundColor: (c: any) => {
            const ch = c.chart;
            if (!ch.chartArea || !ch.scales.y) return cmap(3);
            const y = ch.scales.y;
            const y0 = y.getPixelForValue(CB_MIN), y1 = y.getPixelForValue(CB_MAX);
            const g = ch.ctx.createLinearGradient(0, y0, 0, y1);
            const off = (m: number) => (m - CB_MIN) / (CB_MAX - CB_MIN);
            for (let m = CB_MIN; m <= CB_MAX + 1e-9; m += 0.1) {
              if (Math.abs(m - CUT1) < 0.05 || Math.abs(m - CUT2) < 0.05) continue;
              g.addColorStop(Math.min(1, off(m)), cmap(m));
            }
            g.addColorStop(off(CUT1) - 0.0001, cmap(CUT1 - 0.001));
            g.addColorStop(off(CUT1), cmap(CUT1));
            g.addColorStop(off(CUT2) - 0.0001, cmap(CUT2 - 0.001));
            g.addColorStop(off(CUT2), cmap(CUT2));
            return g;
          },
          borderColor: '#3a3a3a', borderWidth: 1, borderSkipped: false, barPercentage: 1, categoryPercentage: 1
        } as any]
      },
      options: {
        animation: false, responsive: false, maintainAspectRatio: false, events: [],
        layout: { padding: { top: 10, bottom: 10, left: 1, right: 0 } },
        plugins: { legend: { display: false }, tooltip: { enabled: false } },
        scales: {
          x: { display: false },
          y: {
            position: 'right', reverse: true, min: CB_MIN, max: CB_MAX,
            afterBuildTicks: (s: any) => { s.ticks = MONTH_TICKS.map(v => ({ value: v })); },
            afterFit: (s: any) => { s.width = 60; },
            ticks: { font: { family: FONT, size: 14 }, color: INK, padding: 6, autoSkip: false, callback: (v: any) => MONTH_LABELS[MONTH_TICKS.indexOf(Number(v))] },
            grid: { display: false, drawTicks: false }, border: { display: false }
          }
        }
      } as any,
      plugins: [cbTickPlugin]
    });
    return () => chart.destroy();
  }, []);
  const W = 1 + CB_W + 60, H = CB_H + 20;
  return <canvas ref={ref} width={W} height={H} style={{ position: 'absolute', left: CB_LEFT - 1, top: CB_TOP - 10, width: W, height: H }} />;
}

export default function App() {
  return (
    <div style={{ position: 'absolute', left: 0, top: 0, width: 1293, height: 488, background: '#fff', overflow: 'hidden', fontFamily: FONT, color: INK }}>
      {PANELS.map((_, i) => <Panel key={i} idx={i} />)}
      <Colorbar />
      <div style={{ position: 'absolute', left: 19.5, top: 232, transform: 'translate(-50%,-50%) rotate(-90deg)', fontSize: 16, whiteSpace: 'nowrap', lineHeight: 1 }}>Log contrasts</div>
      <div style={{ position: 'absolute', left: 645.5, top: 240, transform: 'translate(-50%,-50%)', fontSize: 16, whiteSpace: 'nowrap', lineHeight: 1 }}>Temperature (°C)</div>
      <div style={{ position: 'absolute', left: 645, top: 478, transform: 'translate(-50%,-50%)', fontSize: 16, whiteSpace: 'nowrap', lineHeight: 1 }}>
        Prior week average radiation (MJ m<span style={{ fontSize: 11, position: 'relative', top: -6 }}>-2</span>)
      </div>
    </div>
  );
}
